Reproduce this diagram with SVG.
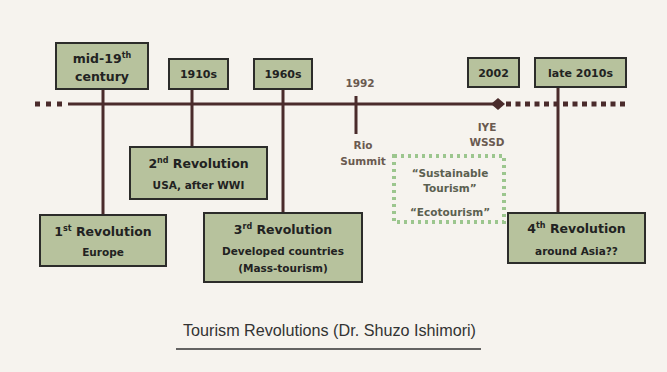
<svg xmlns="http://www.w3.org/2000/svg" width="667" height="372" viewBox="0 0 667 372">
<style>
.box{fill:#b7c29d;stroke:#2c2c2a;stroke-width:2}
.t{font-family:"DejaVu Sans",Verdana,sans-serif;font-weight:bold;fill:#222;text-anchor:middle}
.h{font-size:12.5px}
.s{font-size:10.5px}
.d{font-size:11px}
.m{font-family:"DejaVu Sans",Verdana,sans-serif;font-weight:bold;fill:#6a5a50;text-anchor:middle;font-size:10.5px}
.g{font-family:"DejaVu Sans",Verdana,sans-serif;font-weight:bold;fill:#5b6050;text-anchor:middle;font-size:10.5px}
.ln{stroke:#4a2b2b;stroke-width:3;fill:none}
</style>
<rect width="667" height="372" fill="#f6f3ee"/>
<g id="connectors">
  <line class="ln" x1="68" y1="104" x2="496" y2="104" stroke-width="5"/>
  <path d="M35 104 H64" stroke="#4a2b2b" stroke-width="5" stroke-dasharray="5,6" fill="none"/>
  <path d="M506 104 H628" stroke="#4a2b2b" stroke-width="5" stroke-dasharray="5,4.5" fill="none"/>
  <polygon points="491,104 498,98 505,104 498,110" fill="#4a2b2b"/>
  <line class="ln" x1="103" y1="89" x2="103" y2="215"/>
  <line class="ln" x1="192" y1="89" x2="192" y2="147"/>
  <line class="ln" x1="283" y1="89" x2="283" y2="213"/>
  <line class="ln" x1="356" y1="96" x2="356" y2="134"/>
  <line class="ln" x1="558" y1="87" x2="558" y2="213"/>
</g>
<g id="mid19">
  <rect class="box" x="56" y="43" width="92" height="46"/>
  <text class="t h" x="102" y="63">mid-19<tspan font-size="8" dy="-5">th</tspan></text>
  <text class="t h" x="102" y="81">century</text>
</g>
<g id="d1910">
  <rect class="box" x="169" y="59" width="59" height="30"/>
  <text class="t d" x="198.5" y="78">1910s</text>
</g>
<g id="d1960">
  <rect class="box" x="254" y="59" width="58" height="30"/>
  <text class="t d" x="283" y="78">1960s</text>
</g>
<g id="d1992">
  <text class="m" x="360" y="87" fill="#4a3f3a">1992</text>
  <text class="m" x="363" y="149">Rio</text>
  <text class="m" x="363" y="165">Summit</text>
</g>
<g id="d2002">
  <rect class="box" x="468" y="58" width="51" height="29"/>
  <text class="t d" x="493.5" y="77">2002</text>
  <text class="m" x="487" y="131">IYE</text>
  <text class="m" x="487" y="146">WSSD</text>
</g>
<g id="late2010">
  <rect class="box" x="535" y="58" width="91" height="29"/>
  <text class="t d" x="580.5" y="77">late 2010s</text>
</g>
<g id="sustainable">
  <rect x="394" y="156" width="110" height="66" fill="none" stroke="#9cc68e" stroke-width="4" stroke-dasharray="3,4"/>
  <text class="g" x="450" y="177">“Sustainable</text>
  <text class="g" x="450" y="192">Tourism”</text>
  <text class="g" x="450" y="216">“Ecotourism”</text>
</g>
<g id="rev1">
  <rect class="box" x="40" y="215" width="126" height="51"/>
  <text class="t h" x="103" y="236">1<tspan font-size="8" dy="-5">st</tspan><tspan dy="5"> Revolution</tspan></text>
  <text class="t s" x="103" y="256">Europe</text>
</g>
<g id="rev2">
  <rect class="box" x="130" y="147" width="137" height="52"/>
  <text class="t h" x="198.5" y="168">2<tspan font-size="8" dy="-5">nd</tspan><tspan dy="5"> Revolution</tspan></text>
  <text class="t s" x="198.5" y="189">USA, after WWI</text>
</g>
<g id="rev3">
  <rect class="box" x="204" y="213" width="158" height="69"/>
  <text class="t h" x="283" y="234">3<tspan font-size="8" dy="-5">rd</tspan><tspan dy="5"> Revolution</tspan></text>
  <text class="t s" x="283" y="255">Developed countries</text>
  <text class="t s" x="283" y="272">(Mass-tourism)</text>
</g>
<g id="rev4">
  <rect class="box" x="508" y="213" width="137" height="50"/>
  <text class="t h" x="576.5" y="233">4<tspan font-size="8" dy="-5">th</tspan><tspan dy="5"> Revolution</tspan></text>
  <text class="t s" x="576.5" y="255">around Asia??</text>
</g>
<g id="caption">
  <text x="183" y="336" font-family="'Liberation Sans',Arial,sans-serif" font-size="17" fill="#333" textLength="293" lengthAdjust="spacingAndGlyphs">Tourism Revolutions (Dr. Shuzo Ishimori)</text>
  <line x1="176" y1="349" x2="481" y2="349" stroke="#333" stroke-width="1.5"/>
</g>
</svg>
